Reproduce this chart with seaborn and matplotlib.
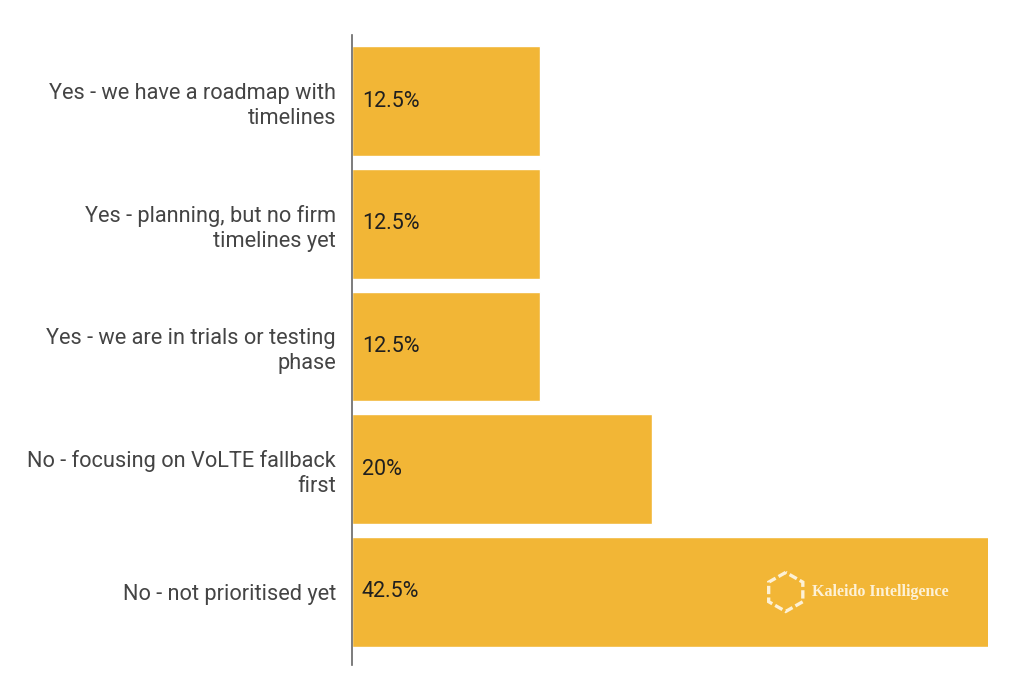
import matplotlib
matplotlib.use("Agg")
import matplotlib.pyplot as plt
from matplotlib.patches import RegularPolygon
import pandas as pd
import seaborn as sns

# данные
answers = [
    "Yes - we have a roadmap with\ntimelines",
    "Yes - planning, but no firm\ntimelines yet",
    "Yes - we are in trials or testing\nphase",
    "No - focusing on VoLTE fallback\nfirst",
    "No - not prioritised yet",
]
shares = [12.5, 12.5, 12.5, 20, 42.5]
share_labels = ["12.5%", "12.5%", "12.5%", "20%", "42.5%"]

df = pd.DataFrame({"answer": answers, "share": shares})

sns.set_theme(style="white")
plt.rcParams["font.family"] = ["Roboto", "DejaVu Sans"]

fig = plt.figure(figsize=(10.24, 6.95), dpi=100)
ax = fig.add_axes([352 / 1024, 1 - 665 / 695, 636 / 1024, 630 / 695])

sns.barplot(data=df, x="share", y="answer", orient="h", color="#F2B636",
            saturation=1, width=0.896, ax=ax)

ax.set_xlim(0, 42.4)
ax.set_ylim(4.595, -0.538)
ax.set_xlabel("")
ax.set_ylabel("")
ax.set_xticks([])
ax.tick_params(axis="y", length=0, pad=11.5, labelsize=15.7, labelcolor="#444444")
for t in ax.get_yticklabels():
    t.set_linespacing(1.25)
for side in ["top", "right", "bottom"]:
    ax.spines[side].set_visible(False)
ax.spines["left"].set_color("#666666")
ax.spines["left"].set_linewidth(1.2)

# подписи значений внутри столбцов
for i, lab in enumerate(share_labels):
    ax.annotate(lab, (0, i), xytext=(7, 0), textcoords="offset points",
                ha="left", va="center", fontsize=15.5, color="#1f1f1f")

# водяной знак
ax.add_patch(RegularPolygon((0.682, 0.116), numVertices=6, radius=0.031,
                            transform=ax.transAxes, fill=False,
                            ec="#fdf1d6", lw=2.4, ls=(0, (2.5, 1.0))))
ax.text(0.723, 0.116, "Kaleido Intelligence", transform=ax.transAxes,
        ha="left", va="center", fontsize=11.6, fontweight="bold",
        family=["Liberation Serif", "DejaVu Serif"], color="#fdf1d6")

fig.savefig("out.png", dpi=100)
